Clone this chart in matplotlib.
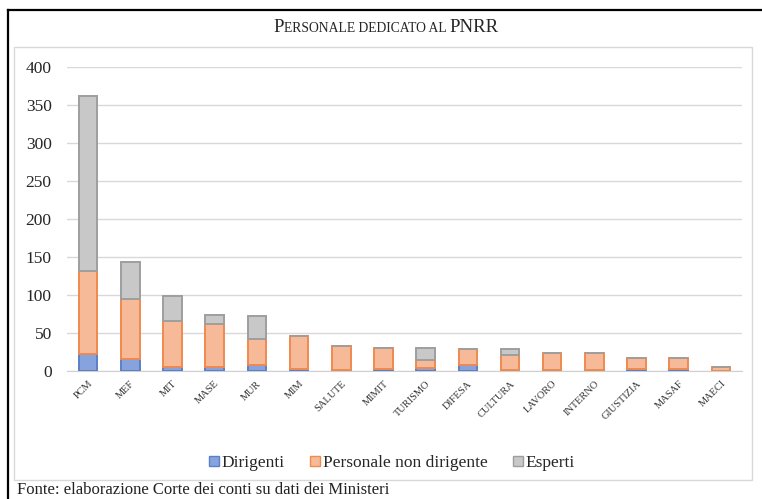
import matplotlib
matplotlib.use("Agg")
import matplotlib.pyplot as plt
import numpy as np
from matplotlib.patches import Patch, Rectangle
from matplotlib.lines import Line2D

plt.rcParams['font.serif'] = ['Liberation Serif', 'DejaVu Serif']
plt.rcParams['font.family'] = 'serif'

ministeri = ['PCM', 'MEF', 'MIT', 'MASE', 'MUR', 'MIM', 'SALUTE', 'MIMIT', 'TURISMO',
             'DIFESA', 'CULTURA', 'LAVORO', 'INTERNO', 'GIUSTIZIA', 'MASAF', 'MAECI']
dirigenti = [22, 15, 5, 5, 8, 2, 1, 2, 3, 8, 1, 1, 1, 2, 2, 0]
non_dirigenti = [109, 79, 61, 57, 34, 44, 31, 28, 11, 20, 20, 22, 22, 15, 15, 5]
esperti = [231, 49, 32, 12, 30, 0, 0, 0, 16, 0, 7, 0, 0, 0, 0, 0]
yticks = [0, 50, 100, 150, 200, 250, 300, 350, 400]

W, H = 762, 499
fig = plt.figure(figsize=(W / 100, H / 100), dpi=100)

def fx(px):
    return px / W

def fy(py):
    return 1 - py / H

# frame of the scanned page
fig.add_artist(Line2D([fx(8), 1], [fy(10), fy(10)], color='black', lw=1.6))
fig.add_artist(Line2D([fx(8), fx(8)], [fy(10), 0], color='black', lw=1.6))
fig.add_artist(Rectangle((fx(14), fy(480)), fx(752) - fx(14), fy(47) - fy(480),
                         fill=False, edgecolor='#D9D9D9', lw=1.0))

ax = fig.add_axes([fx(67), fy(370.7), fx(742) - fx(67), fy(67.3) - fy(370.7)])

x = np.arange(len(ministeri))
w = 0.44
d = np.array(dirigenti)
n = np.array(non_dirigenti)
e = np.array(esperti)
ax.bar(x, d, w, color='#86A3DD', edgecolor='#5B7FC8', lw=1.4, zorder=3)
ax.bar(x, n, w, bottom=d, color='#F6BA98', edgecolor='#EF8A50', lw=1.4, zorder=3)
ax.bar(x, e, w, bottom=d + n, color='#C8C8C8', edgecolor='#9E9E9E', lw=1.4, zorder=3)

ax.set_xlim(-0.5, len(ministeri) - 0.5)
ax.set_ylim(0, 400)
ax.set_yticks(yticks)
ax.yaxis.grid(True, color='#D9D9D9', lw=1.0, zorder=0)
for s in ['top', 'right', 'left']:
    ax.spines[s].set_visible(False)
ax.spines['bottom'].set_color('#D0D0D0')
ax.tick_params(axis='both', length=0)
ax.tick_params(axis='y', labelsize=12.5, labelcolor='#262626', pad=11)
ax.set_xticks(x)
ax.set_xticklabels(ministeri, rotation=45, ha='right', va='top', rotation_mode='anchor',
                   fontsize=7.5, color='#333333')
ax.tick_params(axis='x', pad=6)

handles = [Patch(facecolor='#86A3DD', edgecolor='#5B7FC8', label='Dirigenti'),
           Patch(facecolor='#F6BA98', edgecolor='#EF8A50', label='Personale non dirigente'),
           Patch(facecolor='#C8C8C8', edgecolor='#9E9E9E', label='Esperti')]
fig.legend(handles=handles, loc='center', bbox_to_anchor=(fx(392), fy(463)), ncol=3,
           frameon=False, fontsize=12.5, handlelength=0.55, handleheight=0.55,
           handletextpad=0.15, columnspacing=1.5, labelcolor='#262626')

# small caps title
parts = [('P', 13.5), ('ERSONALE DEDICATO AL ', 9.8), ('PNRR', 13.5)]
renderer = fig.canvas.get_renderer()
texts = []
total = 0
for s, size in parts:
    t = fig.text(0, fy(32), s, fontsize=size, color='#262626', ha='left', va='baseline')
    bb = t.get_window_extent(renderer)
    texts.append((t, bb.width))
    total += bb.width
cur = 386 - total / 2
for t, wd in texts:
    t.set_x(fx(cur))
    cur += wd

fig.text(fx(17), fy(490.5), 'Fonte: elaborazione Corte dei conti su dati dei Ministeri',
         fontsize=12, color='#222222', ha='left', va='center')

fig.savefig('out.png', dpi=100)
